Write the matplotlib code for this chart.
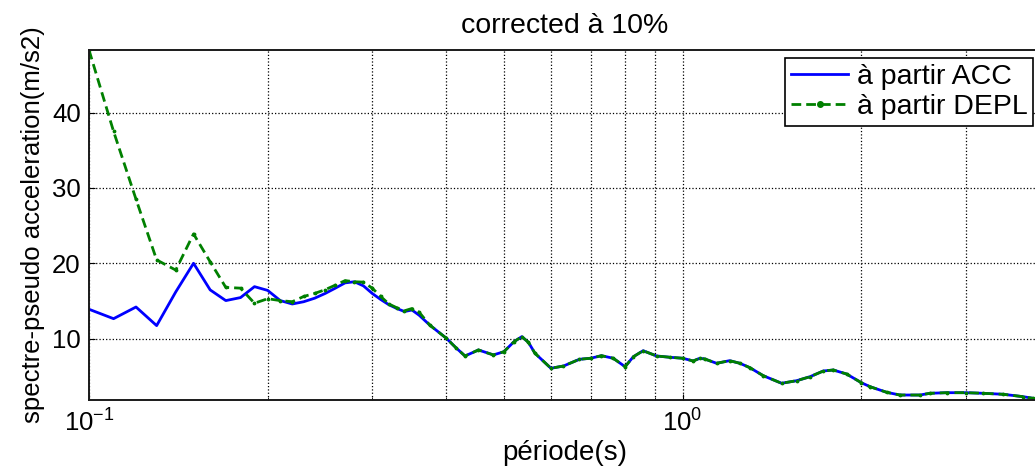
import matplotlib
matplotlib.use('Agg')
import matplotlib.pyplot as plt
from matplotlib.ticker import LogLocator, NullFormatter, FixedLocator

plt.rcParams['font.family'] = ['Liberation Sans', 'DejaVu Sans']
plt.rcParams['mathtext.fontset'] = 'custom'
plt.rcParams['mathtext.rm'] = 'Liberation Sans'
plt.rcParams['mathtext.it'] = 'Liberation Sans:italic'
plt.rcParams['mathtext.default'] = 'regular'
plt.rcParams['axes.unicode_minus'] = False

# short periods, where the two spectra differ
period_short = [0.10, 0.11, 0.12, 0.13, 0.14, 0.15, 0.16, 0.17, 0.18, 0.19,
                0.20, 0.21, 0.22, 0.23, 0.24, 0.25, 0.26, 0.27, 0.28, 0.29,
                0.30, 0.31, 0.32, 0.33, 0.34, 0.35, 0.36]
acc_short = [13.9, 12.65, 14.2, 11.73, 16.2, 20.0, 16.47, 15.05, 15.45, 16.9,
             16.4, 15.05, 14.6, 14.9, 15.37, 16.0, 16.7, 17.4, 17.55, 17.0,
             16.0, 15.2, 14.5, 14.0, 13.6, 13.8, 13.1]
depl_short = [48.3, 37.5, 28.5, 20.45, 19.1, 23.9, 20.2, 16.8, 16.7, 14.7,
              15.3, 15.05, 14.9, 15.6, 16.0, 16.5, 17.1, 17.7, 17.55, 17.5,
              16.7, 15.6, 14.6, 14.1, 13.7, 14.0, 13.5]

# longer periods, where both curves coincide
period_long = [0.375, 0.40, 0.415, 0.43, 0.453, 0.48, 0.50, 0.52, 0.536, 0.55,
               0.564, 0.60, 0.63, 0.67, 0.70, 0.73, 0.764, 0.80, 0.826, 0.858,
               0.904, 0.952, 1.0, 1.042, 1.069, 1.09, 1.141, 1.2, 1.249, 1.298,
               1.367, 1.468, 1.556, 1.639, 1.726, 1.794, 1.889, 2.0, 2.068, 2.207,
               2.323, 2.51, 2.61, 2.784, 3.0, 3.208, 3.467, 3.747, 3.895, 4.0]
spec_long = [11.8, 10.05, 8.8, 7.7, 8.5, 7.84, 8.27, 9.6, 10.27, 9.5,
             8.06, 6.07, 6.37, 7.26, 7.4, 7.74, 7.4, 6.28, 7.6, 8.4,
             7.7, 7.53, 7.4, 7.04, 7.4, 7.3, 6.73, 7.08, 6.73, 6.15,
             5.09, 4.08, 4.42, 4.95, 5.71, 5.84, 5.31, 4.16, 3.63, 2.88,
             2.52, 2.52, 2.75, 2.83, 2.83, 2.75, 2.62, 2.3, 2.08, 1.86]

periods = period_short + period_long
acc = acc_short + spec_long
depl = depl_short + spec_long

fig = plt.figure(figsize=(10.35, 4.68), dpi=100)
ax = fig.add_axes([89 / 1035, 68 / 468, (1040 - 89) / 1035, 350 / 468])

ax.plot(periods, acc, color='#0000ff', lw=2.0, ls='-', label='à partir ACC')
ax.plot(periods, depl, color='#008000', lw=2.0, ls='--', marker='.', markersize=3.5,
        dashes=(3.5, 1.8), label='à partir DEPL')

ax.set_xscale('log')
ax.set_xlim(0.1, 4.0)
ax.set_ylim(min(acc), max(depl))
ax.yaxis.set_major_locator(FixedLocator([10, 20, 30, 40]))
ax.xaxis.set_minor_locator(LogLocator(base=10, subs=range(2, 10)))
ax.xaxis.set_minor_formatter(NullFormatter())

ax.grid(True, which='major', color='black', ls=':', lw=0.9)
ax.grid(True, which='minor', axis='x', color='black', ls=':', lw=0.9)
ax.tick_params(which='both', direction='in', top=False, right=False)
ax.tick_params(which='major', length=4, labelsize=18.5, pad=6)
ax.tick_params(which='minor', length=2.5)
ax.tick_params(axis='x', which='major', pad=7)
for s in ax.spines.values():
    s.set_linewidth(1.4)
    s.set_color('#1a1a1a')

ax.set_title('corrected à 10%', fontsize=20.5, pad=12)
ax.set_xlabel('période(s)', fontsize=20, labelpad=2)
ax.set_ylabel('spectre-pseudo acceleration(m/s2)', fontsize=18.5, labelpad=5)

leg = ax.legend(loc='upper right', bbox_to_anchor=(1033 / 1035, 1 - 58 / 468),
                bbox_transform=fig.transFigure, borderaxespad=0, fontsize=20.5,
                handlelength=2.0, handletextpad=0.3, labelspacing=0.15,
                borderpad=0.2, fancybox=False, framealpha=1)
leg.get_frame().set_edgecolor('black')
leg.get_frame().set_linewidth(1.2)
leg.get_lines()[1].set_markersize(8)

fig.savefig('out.png', dpi=100)
